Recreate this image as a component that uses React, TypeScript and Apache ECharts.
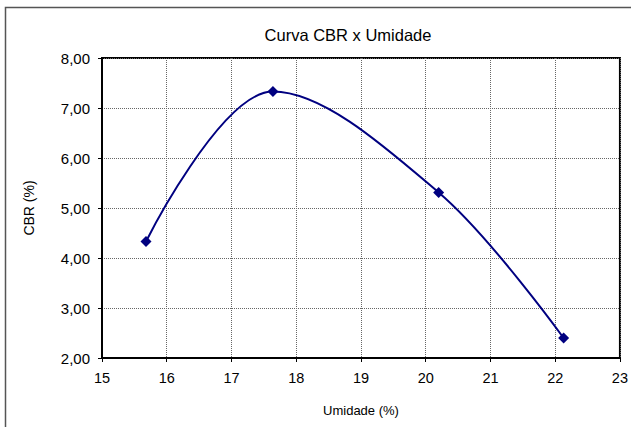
import React, { useEffect, useRef } from "react";
import * as echarts from "echarts";

const umidade = [15.68, 17.64, 20.2, 22.13];
const cbr = [4.33, 7.33, 5.31, 2.4];
const titleText = "Curva CBR x Umidade";
const xName = "Umidade (%)";
const yName = "CBR (%)";

export default function App() {
  const ref = useRef<HTMLDivElement>(null);
  useEffect(() => {
    document.body.style.margin = "0";
    const chart = echarts.init(ref.current!, null, { renderer: "svg" });
    const font = "'Liberation Sans', Arial, sans-serif";
    chart.setOption({
      animation: false,
      backgroundColor: "#ffffff",
      title: {
        text: titleText,
        left: 343,
        top: 21,
        textAlign: "center",
        textStyle: { fontFamily: font, fontSize: 16.5, fontWeight: "normal", color: "#000" },
      },
      graphic: [
        {
          type: "rect",
          shape: { x: 5.5, y: 7.5, width: 700, height: 500 },
          style: { fill: "none", stroke: "#555", lineWidth: 1.5 },
          silent: true,
        },
      ],
      grid: {
        left: 102,
        right: 10,
        top: 58,
        bottom: 69,
        show: true,
        borderColor: "#000",
        borderWidth: 2,
        backgroundColor: "transparent",
      },
      xAxis: {
        type: "value",
        min: 15,
        max: 23,
        interval: 1,
        name: xName,
        nameLocation: "middle",
        nameGap: 46,
        nameTextStyle: { fontFamily: font, fontSize: 13, color: "#000" },
        axisLine: { show: true, onZero: false, lineStyle: { color: "#000", width: 2 } },
        axisTick: { show: true, length: 4, lineStyle: { color: "#000" } },
        axisLabel: { fontFamily: font, fontSize: 14.5, color: "#000", margin: 12 },
        splitLine: { show: true, lineStyle: { color: "#666", type: [1, 1], width: 1 } },
      },
      yAxis: {
        type: "value",
        min: 2,
        max: 8,
        interval: 1,
        name: yName,
        nameLocation: "middle",
        nameGap: 66,
        nameTextStyle: { fontFamily: font, fontSize: 14, color: "#000" },
        axisLine: { show: true, onZero: false, lineStyle: { color: "#000", width: 2 } },
        axisTick: { show: true, length: 4, lineStyle: { color: "#000" } },
        axisLabel: {
          fontFamily: font,
          fontSize: 15,
          color: "#000",
          margin: 12,
          formatter: (v: number) => v.toFixed(2).replace(".", ","),
        },
        splitLine: { show: true, lineStyle: { color: "#666", type: [1, 1], width: 1 } },
      },
      series: [
        {
          type: "line",
          data: umidade.map((x, i) => [x, cbr[i]]),
          smooth: 0.35,
          symbol: "diamond",
          symbolSize: 11,
          itemStyle: { color: "#000080" },
          lineStyle: { color: "#000080", width: 2 },
        },
      ],
    });
    return () => chart.dispose();
  }, []);
  return <div ref={ref} style={{ width: 631, height: 427 }} />;
}
